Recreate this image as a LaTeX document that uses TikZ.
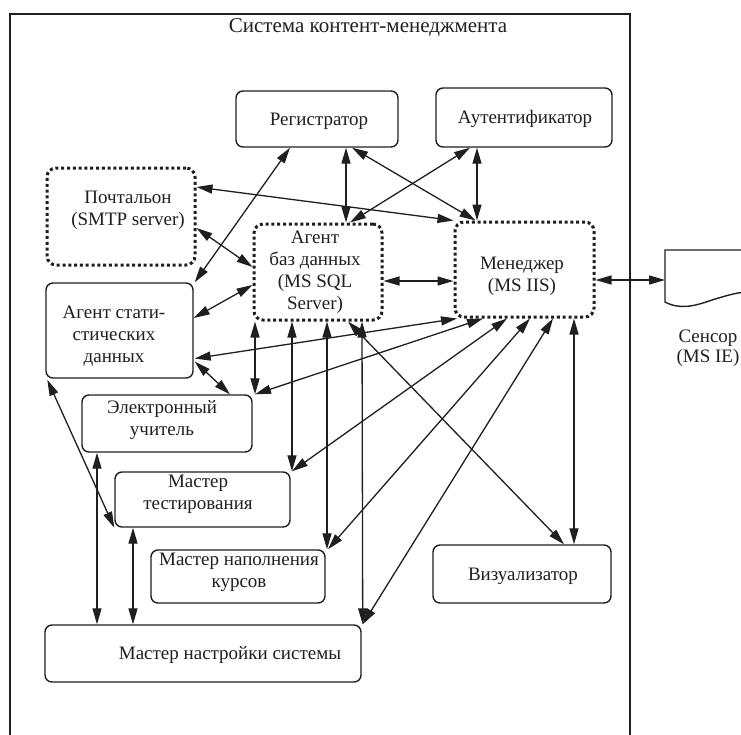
\documentclass[tikz,border=0pt]{standalone}
\usepackage{fontspec}
\setmainfont{Liberation Serif}
\usetikzlibrary{arrows.meta,calc}
\definecolor{ink}{rgb}{0.12,0.12,0.12}
\begin{document}
\begin{tikzpicture}[x=1pt,y=-1pt,
  font=\fontsize{19}{22}\selectfont,
  box/.style={draw=ink, line width=1.4pt, rounded corners=7pt, inner sep=0pt},
  dbox/.style={draw=ink, line width=3pt, dash pattern=on 3pt off 2.8pt, rounded corners=9pt, inner sep=0pt},
  txt/.style={inner sep=0pt, align=center, text=ink},
  conn/.style={draw=ink, line width=1.3pt, {Triangle[length=16pt,width=9pt]}-{Triangle[length=16pt,width=9pt]}}]
\useasboundingbox (0,0) rectangle (741,734);
\fill[white] (0,0) rectangle (741,734);
% outer frame
\draw[ink, line width=1.2pt] (10,745) -- (10,14) -- (630,14) -- (630,745);
\node[txt, font=\fontsize{21}{24}\selectfont] (title) at (368,28) {Система контент-менеджмента};
% boxes
\node[box, minimum width=162pt, minimum height=56pt] (reg) at (317,119) {};
\node[box, minimum width=176pt, minimum height=59pt] (auth) at (524,117.5) {};
\node[dbox, minimum width=148pt, minimum height=97pt] (post) at (121,216.5) {};
\node[dbox, minimum width=128pt, minimum height=96pt] (adb) at (318,272) {};
\node[dbox, minimum width=139pt, minimum height=95pt] (man) at (524.5,269.5) {};
\node[box, minimum width=147pt, minimum height=95pt] (stat) at (119.5,330.5) {};
\node[box, minimum width=170pt, minimum height=57pt] (etch) at (167,423.5) {};
\node[box, minimum width=175pt, minimum height=55pt] (mtest) at (202.5,499.5) {};
\node[box, minimum width=174pt, minimum height=53pt] (mfill) at (238,576.5) {};
\node[box, minimum width=316pt, minimum height=57pt] (mset) at (203,653.5) {};
\node[box, minimum width=178pt, minimum height=58pt] (vis) at (522,574) {};
% texts
\node[txt] (regt) at (319,121) {Регистратор};
\node[txt] (autht) at (525,119) {Аутентификатор};
\node[txt] (postt) at (128,210) {Почтальон\\(SMTP server)};
\node[txt] (adbt) at (315,272) {Агент\\баз данных\\(MS SQL\\Server)};
\node[txt] (mant) at (522,276) {Менеджер\\(MS IIS)};
\node[txt] (statt) at (114,336) {Агент стати-\\стических\\данных};
\node[txt] (etcht) at (162,420) {Электронный\\учитель};
\node[txt] (mtestt) at (198,494) {Мастер\\тестирования};
\node[txt] (mfillt) at (239,572) {Мастер наполнения\\курсов};
\node[txt] (msett) at (230,655) {Мастер настройки системы};
\node[txt] (vist) at (523,576) {Визуализатор};
% sensor
\coordinate (sensorL) at (665,280);
\draw[ink, line width=1.4pt] (745,250) -- (665,250) -- (665,302)
  .. controls (680,310) and (695,306) .. (712,300)
  .. controls (725,296) and (735,293) .. (745,292);
\node[txt, font=\fontsize{19}{20}\selectfont] (sent) at (708,348) {Сенсор\\(MS IE)};
% connectors
\draw[conn] ($(reg.south)+(-27,0)$) -- ($(stat.north east)+(1,0)$);
\draw[conn] ($(reg.south)+(29,0)$) -- ($(adb.north)+(28,0)$);
\draw[conn] ($(reg.south)+(35,0)$) -- ($(man.north)+(-49,0)$);
\draw[conn] ($(post.east)+(0,-29.5)$) -- (man.north west);
\draw[conn] ($(adb.north)+(32,0)$) -- ($(auth.south)+(-54,0)$);
\draw[conn] ($(auth.south)+(-47,0)$) -- ($(man.north)+(-47.5,0)$);
\draw[conn] ($(post.east)+(0,11.5)$) -- ($(adb.west)+(0,-5)$);
\draw[conn] ($(stat.east)+(0,-12.5)$) -- ($(adb.west)+(0,13)$);
\draw[conn] ($(adb.east)+(0,9)$) -- ($(man.west)+(0,11.5)$);
\draw[conn] ($(man.east)+(0,10.5)$) -- (sensorL);
\draw[conn] ($(adb.south)+(-63,0)$) -- ($(etch.north)+(88,0)$);
\draw[conn] ($(adb.south)+(-26,0)$) -- ($(mtest.north)+(89.5,0)$);
\draw[conn] ($(adb.south)+(9,0)$) -- ($(mfill.north)+(89,0)$);
\draw[conn] ($(adb.south)+(44,0)$) -- ($(mset.north east)+(1,0)$);
\draw[conn] ($(adb.south)+(30,0)$) -- ($(vis.north)+(42,0)$);
\draw[conn] ($(man.south)+(-67.5,0)$) -- ($(stat.east)+(1,28)$);
\draw[conn] ($(man.south)+(-41.5,0)$) -- ($(etch.north)+(88,0)$);
\draw[conn] ($(man.south)+(-17.5,0)$) -- ($(mtest.north)+(89.5,0)$);
\draw[conn] ($(man.south)+(5.5,0)$) -- ($(mfill.north)+(90,0)$);
\draw[conn] ($(man.south)+(28.5,0)$) -- ($(mset.north east)+(1,0)$);
\draw[conn] ($(man.south)+(49.5,0)$) -- ($(vis.north)+(52,0)$);
\draw[conn] ($(stat.east)+(1,31)$) -- ($(etch.north)+(63,0)$);
\draw[conn] ($(stat.south west)+(2,1)$) -- (mtest.south west);
\draw[conn] ($(etch.south)+(-70,0)$) -- ($(mset.north)+(-106,0)$);
\draw[conn] ($(mtest.south)+(-69.5,0)$) -- ($(mset.north)+(-70,0)$);
\end{tikzpicture}
\end{document}
